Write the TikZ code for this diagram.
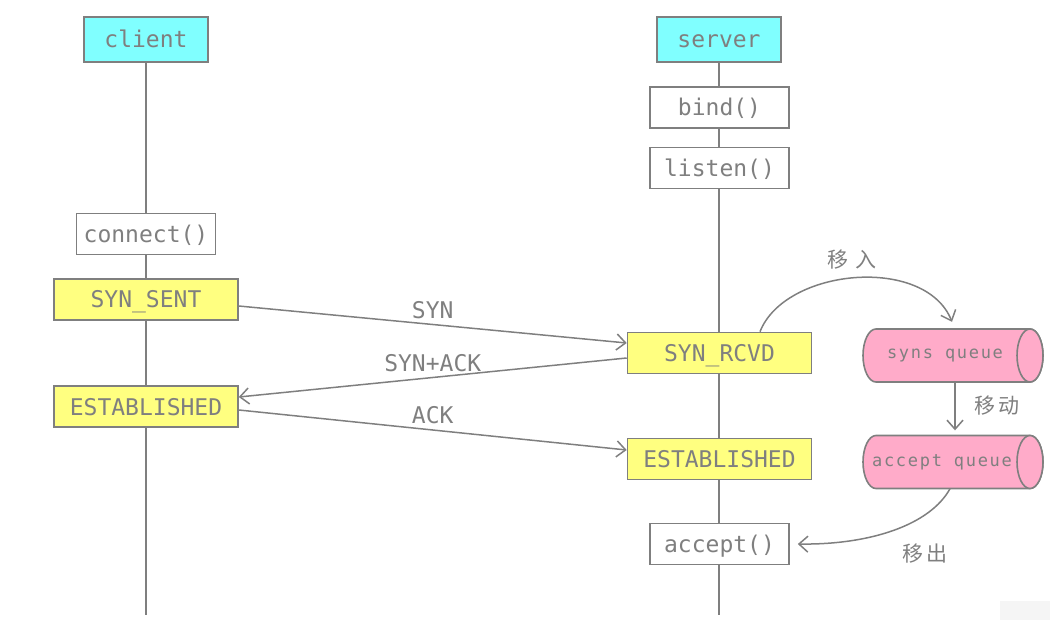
\documentclass[tikz,border=0pt]{standalone}
\usepackage{fontspec}
\setmonofont{DejaVu Sans Mono}
\newfontfamily\cjk{Noto Sans CJK SC}
\newfontfamily\qfont[LetterSpace=10]{DejaVu Sans Mono}
\usetikzlibrary{arrows.meta,calc,backgrounds}
\definecolor{lc}{HTML}{7F7F7F}
\definecolor{cyanbox}{HTML}{80FFFF}
\definecolor{yellowbox}{HTML}{FFFF80}
\definecolor{pinkq}{HTML}{FFABC9}
\tikzset{
  base/.style={draw=lc, line width=1.6pt, inner sep=0pt, text=lc, text height=17pt, text depth=0pt, font=\ttfamily\fontsize{23}{23}\selectfont},
  head/.style={base, fill=cyanbox, minimum width=124pt, minimum height=45pt},
  call/.style={base, fill=white, minimum width=139pt, minimum height=41pt},
  state/.style={base, fill=yellowbox, minimum width=184pt, minimum height=41pt},
  queue/.style={inner sep=0pt, text=lc, minimum width=180pt, minimum height=53pt, font=\qfont\fontsize{17}{17}\selectfont},
  qbody/.style={draw=lc, line width=1.6pt, fill=pinkq},
  msg/.style={draw=lc, line width=1.5pt, -{Straight Barb[length=9pt,width=16pt,line width=1.5pt]}},
  lbl/.style={text=lc, font=\ttfamily\fontsize{23}{23}\selectfont},
  clbl/.style={text=lc, font=\cjk\fontsize{21}{21}\selectfont},
  life/.style={draw=lc, line width=1.6pt}
}
\begin{document}
\begin{tikzpicture}[x=1pt,y=-1pt]
\useasboundingbox (0,0) rectangle (1057,628);
\fill[gray!8] (1000,601) rectangle (1050,620);
% client side
\node[head] (client) at (146,39.5) {client};
\node[call] (connect) at (146,234) {connect()};
\node[state] (sent) at (146,299.5) {SYN\_SENT};
\node[state] (cest) at (146,406.5) {ESTABLISHED};
\coordinate (cbot) at (146,615);
% server side
\node[head] (server) at (719,39.5) {server};
\node[call] (bind) at (719.5,107.5) {bind()};
\node[call] (listen) at (719.5,168) {listen()};
\node[state] (rcvd) at (719.5,353) {SYN\_RCVD};
\node[state] (sest) at (719.5,459) {ESTABLISHED};
\node[call] (accept) at (719.5,544) {accept()};
\coordinate (sbot) at (719,615);
% queues (cylinders)
\path[qbody] (876,329) -- (1030,329) arc[start angle=90, end angle=-90, x radius=13pt, y radius=26.5pt] -- (876,382) arc[start angle=270, end angle=90, x radius=13pt, y radius=26.5pt] -- cycle;
\draw[qbody] (1030,355.5) ellipse [x radius=13pt, y radius=26.5pt];
\path[qbody] (876,435.5) -- (1030,435.5) arc[start angle=90, end angle=-90, x radius=13pt, y radius=26.5pt] -- (876,488.5) arc[start angle=270, end angle=90, x radius=13pt, y radius=26.5pt] -- cycle;
\draw[qbody] (1030,462) ellipse [x radius=13pt, y radius=26.5pt];
\node[queue] (synq) at (953,355.5) {syns queue\hspace*{16pt}\mbox{}};
\node[queue] (accq) at (953,462) {accept queue\hspace*{22pt}\mbox{}};
\begin{scope}[on background layer]
\draw[life] (client.south) -- (cbot);
\draw[life] (server.south) -- (sbot);
\end{scope}
% messages
\draw[msg] ($(sent.east)+(0,6.5)$) -- node[lbl, above=2pt, pos=0.5] {SYN} ($(rcvd.west)+(0,-10)$);
\draw[msg] ($(rcvd.west)+(0,5)$) -- node[lbl, above=2pt, pos=0.5] {SYN+ACK} ($(cest.east)+(0,-9.5)$);
\draw[msg] ($(cest.east)+(0,3.5)$) -- node[lbl, above=2pt, pos=0.5] {ACK} ($(sest.west)+(0,-9)$);
% queue moves
\draw[msg] ($(rcvd.north)+(40.5,0)$) .. controls (785,268) and (925,255) .. ($(synq.north)+(-1,-7)$);
\node[clbl] (lin) at (852,260) {移\hspace{8pt}入};
\draw[msg] ($(synq.south)+(2,0)$) -- ($(accq.north)+(2,-5)$);
\node[clbl] (lmove) at (997,406) {移\hspace{3pt}动};
\draw[msg] ($(accq.south)+(-3,0)$) .. controls (930,525) and (870,545) .. ($(accept.east)+(8,0)$);
\node[clbl] (lout) at (925,554) {移\hspace{3pt}出};
\end{tikzpicture}
\end{document}
